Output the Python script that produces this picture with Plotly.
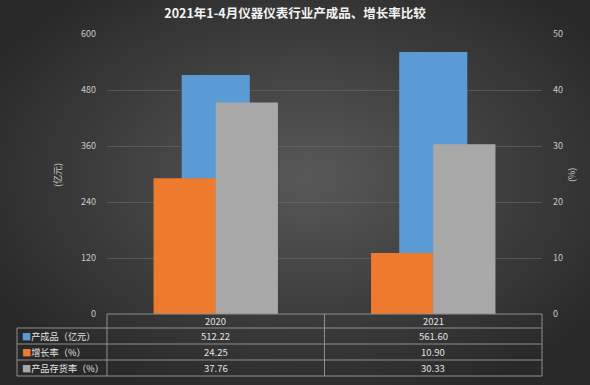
import base64
import plotly.graph_objects as go

# ---------------- data ----------------
categories = ["2020", "2021"]
output_value = [512.22, 561.60]      # 产成品（亿元）
growth_rate = [24.25, 10.90]         # 增长率（%）
inventory_rate = [37.76, 30.33]      # 产品存货率（%）
series_names = ["产成品（亿元）", "增长率（%）", "产品存货率（%）"]
left_ticks = [0, 120, 240, 360, 480, 600]
right_ticks = [0, 10, 20, 30, 40, 50]
title_text = "2021年1-4月仪器仪表行业产成品、增长率比较"

# ---------------- layout geometry (px) ----------------
W, H = 590, 385
ML, MR, MT, MB = 17, 48, 34, 9
RW, RH = W - ML - MR, H - MT - MB
plot_left_px, plot_bottom_px = 107, 314


def px_x(px):
    return (px - ML) / RW


def px_y(py):
    return (H - MB - py) / RH


FONT = "Noto Sans CJK SC, Open Sans, sans-serif"
BLUE, ORANGE, GRAY = "#5B9BD5", "#EE7A2E", "#A8A8A8"
colors = [BLUE, ORANGE, GRAY]
LINE = "#8e8e8e"
TXT = "#e2e2e2"

fig = go.Figure()
fig.add_trace(go.Bar(x=categories, y=output_value, name=series_names[0],
                     marker=dict(color=BLUE, line=dict(width=0)),
                     width=0.313, offset=-0.1565, yaxis="y"))
fig.add_trace(go.Bar(x=categories, y=growth_rate, name=series_names[1],
                     marker=dict(color=ORANGE, line=dict(width=0)),
                     width=0.286, offset=-0.286, yaxis="y2"))
fig.add_trace(go.Bar(x=categories, y=inventory_rate, name=series_names[2],
                     marker=dict(color=GRAY, line=dict(width=0)),
                     width=0.286, offset=0.0, yaxis="y2"))

# background radial gradient via svg image
svg = (f"<svg xmlns='http://www.w3.org/2000/svg' width='{W}' height='{H}' "
       f"preserveAspectRatio='none' viewBox='0 0 {W} {H}'>"
       "<defs><radialGradient id='g' cx='52%' cy='46%' r='62%'>"
       "<stop offset='0' stop-color='#585858'/>"
       "<stop offset='1' stop-color='#282828'/>"
       "</radialGradient></defs>"
       f"<rect width='{W}' height='{H}' fill='url(#g)'/></svg>")
src = "data:image/svg+xml;base64," + base64.b64encode(svg.encode()).decode()

ydom = [px_y(plot_bottom_px), 1]
tickfont = dict(family=FONT, size=9, color="#c8c8c8")

shapes = []
line = dict(color=LINE, width=1)
row_lines_px = [328, 344, 360, 376]
shapes.append(dict(type="line", xref="paper", yref="paper",
                   x0=px_x(plot_left_px), x1=1, y0=px_y(314), y1=px_y(314), line=line))
for py in row_lines_px:
    shapes.append(dict(type="line", xref="paper", yref="paper",
                       x0=0, x1=1, y0=px_y(py), y1=px_y(py), line=line))
shapes.append(dict(type="line", xref="paper", yref="paper", x0=0, x1=0,
                   y0=px_y(328), y1=px_y(376), line=line))
shapes.append(dict(type="line", xref="paper", yref="paper",
                   x0=px_x(plot_left_px), x1=px_x(plot_left_px),
                   y0=px_y(314), y1=px_y(376), line=line))
shapes.append(dict(type="line", xref="x", yref="paper", x0=0.5, x1=0.5,
                   y0=px_y(314), y1=px_y(376), line=line))
shapes.append(dict(type="line", xref="paper", yref="paper", x0=1, x1=1,
                   y0=px_y(314), y1=px_y(376), line=line))

annotations = []
cellfont = dict(family=FONT, size=9.5, color=TXT)
header_y = 321
row_y = [336, 352, 368]
for ci, c in enumerate(categories):
    annotations.append(dict(x=ci, xref="x", y=px_y(header_y), yref="paper", text=c,
                            showarrow=False, font=cellfont, xanchor="center", yanchor="middle"))
series_values = [output_value, growth_rate, inventory_rate]
for i, (name, vals) in enumerate(zip(series_names, series_values)):
    annotations.append(dict(x=px_x(20), xref="paper", y=px_y(row_y[i]), yref="paper",
                            text=f"<span style='color:{colors[i]}'>■</span>{name}",
                            showarrow=False, font=dict(family=FONT, size=9.2, color=TXT),
                            xanchor="left", yanchor="middle"))
    for ci, v in enumerate(vals):
        annotations.append(dict(x=ci, xref="x", y=px_y(row_y[i]), yref="paper",
                                text=f"{v:.2f}", showarrow=False, font=cellfont,
                                xanchor="center", yanchor="middle"))
annotations.append(dict(x=px_x(58), xref="paper", y=px_y(175), yref="paper", text="(亿元)",
                        textangle=-90, showarrow=False,
                        font=dict(family=FONT, size=9, color="#c8c8c8"),
                        xanchor="center", yanchor="middle"))
annotations.append(dict(x=px_x(572), xref="paper", y=px_y(175), yref="paper", text="(%)",
                        textangle=-90, showarrow=False,
                        font=dict(family=FONT, size=9, color="#c8c8c8"),
                        xanchor="center", yanchor="middle"))

fig.update_layout(
    width=W, height=H, autosize=False,
    margin=dict(l=ML, r=MR, t=MT, b=MB, pad=0, autoexpand=False),
    paper_bgcolor="#333333", plot_bgcolor="rgba(0,0,0,0)",
    barmode="overlay", showlegend=False,
    title=dict(text=title_text, x=0.5, xref="container", xanchor="center",
               y=1 - 14 / H, yref="container", yanchor="middle", automargin=False,
               font=dict(family=FONT, size=12.5, color="#f2f2f2", weight="bold")),
    xaxis=dict(domain=[px_x(plot_left_px), 1], range=[-0.5, 1.5], type="category",
               automargin=False,
               showticklabels=False, showgrid=False, zeroline=False, showline=False),
    yaxis=dict(domain=ydom, range=[0, 600], tickvals=left_ticks, automargin=False,
               showgrid=True, gridcolor="rgba(110,110,110,0.55)", gridwidth=1,
               zeroline=False, showline=False, tickfont=tickfont,
               ticks="", ticklabelstandoff=10),
    yaxis2=dict(domain=ydom, range=[0, 50], tickvals=right_ticks, overlaying="y",
                automargin=False,
                side="right", showgrid=False, zeroline=False, showline=False,
                tickfont=tickfont, ticks="", ticklabelstandoff=10),
    images=[dict(source=src, xref="paper", yref="paper",
                 x=-ML / RW, y=1 + MT / RH, sizex=W / RW, sizey=H / RH,
                 xanchor="left", yanchor="top", sizing="stretch", layer="below")],
    shapes=shapes, annotations=annotations,
)

fig.write_html("out.html",
               config={"responsive": False, "displayModeBar": False},
               post_script="document.body.style.margin='0';document.body.style.overflow='hidden';")
